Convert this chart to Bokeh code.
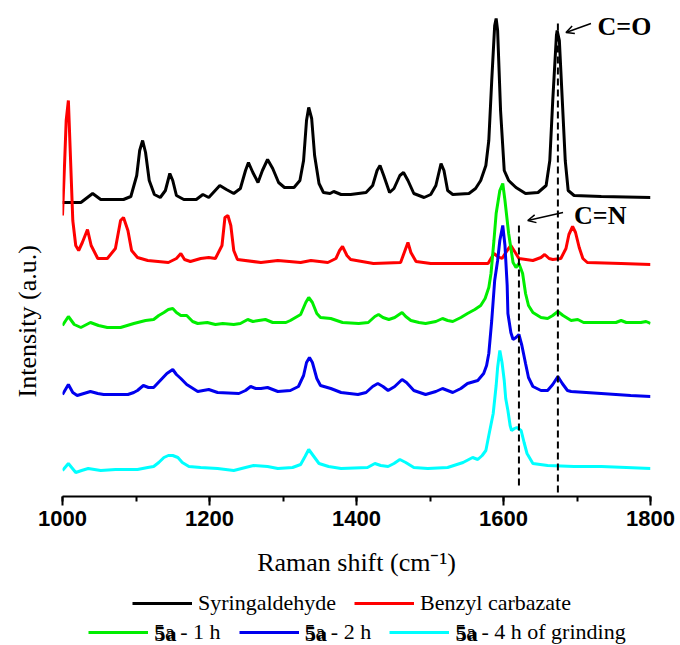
from bokeh.plotting import figure
from bokeh.layouts import column
from bokeh.models import (Range1d, SingleIntervalTicker, Legend, LegendItem, Title,
                          Arrow, OpenHead)
from bokeh.core.properties import value
from bokeh.embed import file_html
from bokeh.resources import INLINE

# ---------------- data (Raman shift in cm-1, stacked intensity in a.u.) ----------------
syr_x = [1000, 1025, 1041, 1052, 1083, 1093, 1101, 1105, 1109, 1113, 1118, 1125, 1133, 1140,
         1146, 1150, 1155, 1165, 1182, 1191, 1199, 1214, 1223, 1233, 1242, 1249, 1253, 1259,
         1266, 1272, 1279, 1286, 1294, 1302, 1315, 1323, 1328, 1332, 1335, 1339, 1343, 1349,
         1355, 1364, 1369, 1379, 1392, 1413, 1422, 1428, 1432, 1437, 1445, 1451, 1459, 1464,
         1470, 1478, 1492, 1501, 1508, 1515, 1519, 1524, 1531, 1553, 1562, 1569, 1576, 1580,
         1584, 1588, 1590, 1592, 1596, 1601, 1607, 1617, 1630, 1647, 1658, 1663, 1667, 1672,
         1673, 1676, 1680, 1684, 1688, 1696, 1733, 1800]
syr_y = [294, 294, 303, 297, 297, 300, 321, 346, 356, 344, 316, 302, 299, 306,
         323, 316, 301, 297, 297, 302, 299, 311, 307, 303, 308, 326, 334, 324,
         314, 326, 337, 328, 314, 309, 309, 316, 336, 376, 389, 378, 341, 313,
         304, 303, 305, 302, 302, 304, 311, 326, 331, 321, 304, 308, 321, 324,
         316, 303, 299, 302, 311, 333, 326, 306, 302, 303, 308, 316, 331, 356,
         416, 471, 478, 466, 386, 326, 316, 309, 303, 304, 311, 336, 396, 461,
         466, 456, 396, 336, 306, 301, 300, 299]

ben_x = [1000, 1003, 1005, 1008, 1011, 1014, 1018, 1022, 1027, 1034, 1039, 1048, 1061, 1072,
         1079, 1083, 1089, 1094, 1102, 1116, 1144, 1155, 1161, 1166, 1174, 1188, 1199, 1208,
         1217, 1221, 1225, 1229, 1233, 1238, 1270, 1293, 1324, 1338, 1361, 1372, 1377, 1381,
         1387, 1392, 1423, 1460, 1465, 1470, 1474, 1481, 1501, 1579, 1587, 1592, 1598, 1605,
         1610, 1616, 1621, 1640, 1651, 1656, 1662, 1667, 1678, 1685, 1689, 1694, 1698, 1703,
         1708, 1714, 1760, 1800]
ben_y = [281, 336, 376, 396, 336, 276, 251, 246, 254, 267, 251, 238, 238, 248,
         276, 279, 266, 246, 239, 236, 234, 238, 243, 237, 235, 238, 239, 238,
         251, 279, 281, 271, 246, 237, 234, 236, 234, 236, 234, 238, 246, 250,
         241, 237, 233, 234, 244, 254, 244, 235, 233, 233, 243, 240, 238, 246,
         251, 244, 238, 236, 239, 242, 238, 237, 238, 248, 262, 270, 264, 249,
         238, 234, 233, 232]

h1_x = [1000, 1008, 1016, 1025, 1038, 1049, 1061, 1079, 1097, 1113, 1124, 1131, 1138, 1144,
        1150, 1155, 1161, 1169, 1177, 1184, 1197, 1208, 1218, 1233, 1242, 1252, 1259, 1267,
        1276, 1286, 1304, 1310, 1324, 1331, 1335, 1340, 1346, 1351, 1365, 1373, 1381, 1403,
        1416, 1425, 1430, 1436, 1444, 1452, 1462, 1467, 1474, 1485, 1494, 1508, 1517, 1524,
        1531, 1542, 1551, 1561, 1569, 1575, 1580, 1583, 1587, 1590, 1595, 1599, 1602, 1607,
        1613, 1617, 1621, 1626, 1630, 1634, 1640, 1651, 1660, 1667, 1674, 1681, 1692, 1701,
        1709, 1733, 1753, 1760, 1767, 1787, 1794, 1800]
h1_y = [171, 180, 172, 169, 174, 171, 169, 169, 173, 176, 177, 181, 184, 187,
        188, 184, 181, 181, 175, 173, 174, 172, 173, 172, 173, 177, 175, 176,
        177, 174, 174, 176, 182, 194, 199, 194, 183, 179, 178, 176, 174, 173,
        174, 180, 182, 179, 177, 179, 184, 180, 176, 174, 173, 175, 178, 176,
        175, 179, 183, 187, 191, 198, 209, 223, 256, 283, 306, 313, 296, 263,
        234, 229, 233, 223, 203, 191, 184, 179, 178, 181, 185, 181, 176, 177,
        174, 174, 174, 176, 174, 174, 175, 173]

h2_x = [1000, 1008, 1014, 1020, 1029, 1038, 1048, 1056, 1089, 1097, 1102, 1110, 1117, 1124,
        1133, 1142, 1150, 1155, 1161, 1169, 1184, 1199, 1211, 1240, 1249, 1256, 1263, 1270,
        1279, 1293, 1310, 1321, 1328, 1332, 1336, 1340, 1346, 1351, 1365, 1379, 1402, 1413,
        1422, 1429, 1436, 1443, 1452, 1462, 1468, 1478, 1494, 1508, 1517, 1524, 1531, 1542,
        1551, 1565, 1573, 1577, 1580, 1584, 1588, 1592, 1595, 1599, 1602, 1605, 1606, 1610,
        1613, 1617, 1621, 1625, 1630, 1634, 1640, 1651, 1660, 1667, 1674, 1680, 1687, 1692,
        1733, 1773, 1800]
h2_y = [102, 112, 104, 101, 103, 105, 103, 102, 102, 104, 106, 111, 109, 109,
        116, 123, 127, 122, 118, 112, 105, 107, 104, 103, 106, 110, 108, 108,
        109, 105, 106, 110, 121, 134, 139, 134, 118, 111, 108, 104, 102, 104,
        110, 113, 110, 106, 110, 117, 114, 106, 102, 105, 108, 106, 104, 108,
        113, 116, 123, 131, 143, 176, 216, 236, 256, 271, 251, 211, 183, 164,
        157, 159, 162, 151, 133, 119, 110, 106, 106, 112, 120, 113, 106, 105,
        103, 101, 100]

h4_x = [1000, 1008, 1018, 1026, 1035, 1052, 1072, 1102, 1116, 1124, 1131, 1138, 1144, 1150,
        1157, 1163, 1172, 1188, 1211, 1233, 1249, 1260, 1279, 1293, 1313, 1324, 1330, 1335,
        1340, 1349, 1362, 1379, 1415, 1425, 1433, 1443, 1451, 1459, 1467, 1478, 1497, 1524,
        1545, 1558, 1565, 1571, 1576, 1580, 1586, 1590, 1592, 1595, 1598, 1601, 1603, 1606,
        1609, 1611, 1615, 1618, 1624, 1628, 1632, 1640, 1660, 1696, 1733, 1767, 1800]
h4_y = [26, 33, 24, 26, 28, 26, 27, 27, 29, 30, 34, 39, 41, 41,
        39, 34, 30, 29, 28, 26, 29, 31, 30, 28, 29, 32, 40, 47,
        42, 33, 30, 28, 29, 33, 31, 30, 33, 37, 34, 29, 28, 29,
        34, 39, 37, 41, 46, 61, 83, 111, 129, 146, 134, 116, 98, 86,
        71, 66, 68, 69, 66, 54, 43, 33, 31, 30, 30, 29, 28]

# marker lines (C=N and C=O positions) and annotation texts
mark_x = [1621, 1674]
mark_lo = [11, 4]
mark_hi = [273, 476]
note_text = ["C=O", "C=N"]
note_x = [1728, 1696]
note_y = [470, 281]
arrow_from = [(1719, 473), (1681, 284)]
arrow_to = [(1685, 464), (1633, 276)]

x_ticks_interval = 200

series_names = ["Syringaldehyde", "Benzyl carbazate"]
grind_labels = ["5a - 1 h", "5a - 2 h", "5a - 4 h of grinding"]
colors = ["#000000", "#ff0000", "#00ee00", "#0000ee", "#00ffff"]

# ---------------- main figure ----------------
p = figure(width=680, height=588, output_backend="svg", toolbar_location=None,
           x_range=Range1d(1000, 1800), y_range=Range1d(0, 484),
           y_axis_location=None,
           min_border_left=62, min_border_right=30, min_border_top=12, min_border_bottom=92)
p.grid.visible = False
p.outline_line_color = None

ax = p.xaxis[0]
ax.ticker = SingleIntervalTicker(interval=x_ticks_interval, num_minor_ticks=2)
ax.axis_line_width = 2
ax.axis_line_color = "black"
ax.major_tick_line_width = 2
ax.minor_tick_line_width = 2
ax.major_tick_line_color = "black"
ax.minor_tick_line_color = "black"
ax.major_tick_in = 0
ax.major_tick_out = 9
ax.minor_tick_in = 0
ax.minor_tick_out = 5
ax.major_label_text_font = "Liberation Sans"
ax.major_label_text_font_style = "bold"
ax.major_label_text_font_size = "22px"
ax.major_label_text_color = "black"
ax.major_label_standoff = 5
ax.axis_label = "Raman shift (cm\u207b\u00b9)"
ax.axis_label_text_font = "Liberation Serif"
ax.axis_label_text_font_style = "normal"
ax.axis_label_text_font_size = "26px"
ax.axis_label_text_color = "black"
ax.axis_label_standoff = 19

all_x = [syr_x, ben_x, h1_x, h2_x, h4_x]
all_y = [syr_y, ben_y, h1_y, h2_y, h4_y]
for xs, ys, c in zip(all_x, all_y, colors):
    p.line(xs, ys, line_color=c, line_width=3)

p.segment(x0=mark_x, y0=mark_lo, x1=mark_x, y1=mark_hi, line_color="black",
          line_width=2, line_dash="7 4")

for (xs, ys), (xe, ye) in zip(arrow_from, arrow_to):
    p.add_layout(Arrow(x_start=xs, y_start=ys, x_end=xe, y_end=ye, line_width=1.5,
                       end=OpenHead(size=8, line_width=1.5)))

p.text(x=note_x, y=note_y, text=note_text, text_font=value("Liberation Serif"),
       text_font_style="bold", text_font_size="26px", text_baseline="middle",
       text_align="left", text_color="black")

# y axis title (spacer title keeps it away from the frame)
spacer = Title(text=" ", text_font_size="10px", standoff=8)
p.add_layout(spacer, "left")
ytitle = Title(text="Intensity (a.u.)", align="left", offset=99, standoff=0,
               text_font="Liberation Serif", text_font_size="26px",
               text_font_style="normal", text_color="black")
p.add_layout(ytitle, "left")

# ---------------- legend strip (frame aligns with the main plot frame) ----------------
q = figure(width=680, height=57, output_backend="svg", toolbar_location=None,
           x_range=Range1d(0, 588), y_range=Range1d(0, 57),
           x_axis_location=None, y_axis_location=None,
           min_border_left=62, min_border_right=30, min_border_top=0, min_border_bottom=0)
q.grid.visible = False
q.outline_line_color = None
nan = float("nan")
rs = [q.line(x=[nan], y=[nan], line_color=c, line_width=3) for c in colors]


def make_legend(items, loc):
    return Legend(items=items, orientation="horizontal", location=loc,
                  label_text_font="Liberation Serif", label_text_font_size="22px",
                  label_text_color="black",
                  glyph_width=60, glyph_height=24, label_height=24, label_standoff=6,
                  spacing=18, padding=0, margin=0, border_line_color=None,
                  background_fill_alpha=0)


leg1 = make_legend([LegendItem(label=n, renderers=[r]) for n, r in zip(series_names, rs[:2])],
                   (70, 29))
leg2 = make_legend([LegendItem(label=n, renderers=[r]) for n, r in zip(grind_labels, rs[2:])],
                   (26, 0))
q.add_layout(leg1, "center")
q.add_layout(leg2, "center")

# bold compound number "5a" over the legend labels
bold_x = [92, 242.6, 393.2]
q.text(x=bold_x, y=[12.5] * 3, text=["5a"] * 3, text_font=value("Liberation Serif"),
       text_font_style="bold", text_font_size="22px", text_baseline="middle",
       text_align="left", text_color="black", background_fill_color="white")

open("out.html", "w").write(file_html(column(p, q, spacing=0), INLINE))
